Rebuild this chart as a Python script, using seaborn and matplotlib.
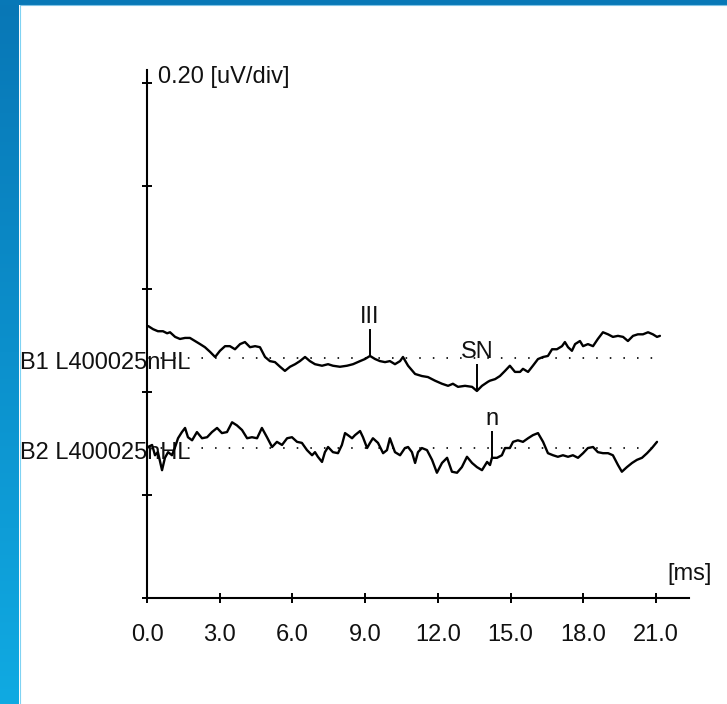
import numpy as np
import pandas as pd
import matplotlib
matplotlib.use("Agg")
import matplotlib.pyplot as plt
import seaborn as sns
from matplotlib import font_manager
from matplotlib.colors import LinearSegmentedColormap

# ---------------- data ----------------
x_ticks = [0.0, 3.0, 6.0, 9.0, 12.0, 15.0, 18.0, 21.0]
x_tick_labels = ["0.0", "3.0", "6.0", "9.0", "12.0", "15.0", "18.0", "21.0"]
y_div_ticks = [0, 1, 2, 3, 4, 5]
uv_per_div = 0.20

trace_names = ["B1 L400025nHL", "B2 L400025nHL"]
trace_offsets_div = [2.33, 1.456]

b1_time = [0.05, 0.25, 0.45, 0.66, 0.83, 0.95, 1.16, 1.36, 1.57, 1.77, 1.98, 2.19, 2.39, 2.60,
           2.81, 3.01, 3.22, 3.42, 3.63, 3.84, 4.04, 4.25, 4.46, 4.66, 4.87, 5.07, 5.28, 5.49,
           5.69, 5.90, 6.11, 6.31, 6.52, 6.72, 6.93, 7.22, 7.47, 7.67, 7.96, 8.25, 8.50, 8.79,
           8.99, 9.20, 9.41, 9.61, 9.82, 10.02, 10.23, 10.44, 10.56, 10.77, 11.06, 11.34, 11.59,
           11.88, 12.17, 12.42, 12.62, 12.83, 13.12, 13.41, 13.61, 13.82, 14.07, 14.15, 14.36,
           14.56, 14.77, 14.97, 15.18, 15.39, 15.51, 15.72, 15.92, 16.13, 16.34, 16.54, 16.71,
           16.91, 17.12, 17.24, 17.37, 17.53, 17.66, 17.86, 17.99, 18.19, 18.40, 18.60, 18.81,
           19.02, 19.22, 19.43, 19.64, 19.84, 20.05, 20.25, 20.46, 20.67, 20.87, 21.04, 21.16]
b1_uv = [0.062, 0.056, 0.052, 0.052, 0.048, 0.050, 0.041, 0.037, 0.039, 0.039, 0.033, 0.027,
         0.021, 0.012, 0.002, 0.014, 0.023, 0.023, 0.017, 0.027, 0.031, 0.021, 0.023, 0.021,
         0.002, -0.006, -0.008, -0.017, -0.025, -0.017, -0.012, -0.006, 0.002, -0.006, -0.012,
         -0.015, -0.012, -0.015, -0.017, -0.015, -0.012, -0.006, -0.002, 0.004, -0.002, -0.006,
         -0.008, -0.006, -0.012, -0.006, 0.002, -0.015, -0.031, -0.035, -0.037, -0.044, -0.050,
         -0.054, -0.050, -0.056, -0.054, -0.056, -0.064, -0.054, -0.046, -0.044, -0.041, -0.035,
         -0.025, -0.015, -0.027, -0.027, -0.021, -0.027, -0.015, -0.002, 0.002, 0.004, 0.017,
         0.017, 0.023, 0.031, 0.021, 0.014, 0.027, 0.033, 0.023, 0.027, 0.023, 0.037, 0.050,
         0.046, 0.041, 0.043, 0.041, 0.033, 0.043, 0.046, 0.046, 0.050, 0.046, 0.041, 0.043]

b2_time = [0.04, 0.21, 0.33, 0.45, 0.62, 0.74, 0.87, 1.03, 1.16, 1.28, 1.44, 1.57, 1.69, 1.86,
           2.06, 2.27, 2.48, 2.68, 2.89, 3.09, 3.30, 3.51, 3.71, 3.92, 4.13, 4.33, 4.54, 4.74,
           4.95, 5.16, 5.36, 5.57, 5.78, 5.98, 6.19, 6.39, 6.60, 6.81, 6.93, 7.05, 7.22, 7.34,
           7.47, 7.67, 7.88, 8.04, 8.17, 8.29, 8.46, 8.58, 8.79, 8.91, 9.08, 9.20, 9.32, 9.53,
           9.74, 9.90, 10.02, 10.23, 10.44, 10.64, 10.77, 10.93, 11.06, 11.18, 11.34, 11.55,
           11.76, 11.96, 12.17, 12.38, 12.58, 12.79, 12.99, 13.20, 13.41, 13.61, 13.82, 14.03,
           14.15, 14.23, 14.44, 14.64, 14.77, 14.97, 15.10, 15.30, 15.51, 15.72, 15.92, 16.13,
           16.34, 16.54, 16.75, 16.95, 17.16, 17.37, 17.57, 17.78, 17.99, 18.19, 18.40, 18.60,
           18.81, 19.02, 19.22, 19.43, 19.59, 19.80, 20.01, 20.21, 20.42, 20.63, 20.83, 21.04]
b2_uv = [0.002, 0.006, -0.014, -0.008, -0.043, -0.019, -0.008, -0.014, 0.002, 0.019, 0.031,
         0.039, 0.021, 0.015, 0.031, 0.019, 0.021, 0.031, 0.039, 0.029, 0.031, 0.050, 0.044,
         0.035, 0.019, 0.021, 0.019, 0.039, 0.021, 0.002, 0.012, 0.006, 0.019, 0.021, 0.012,
         0.010, -0.004, -0.014, -0.008, -0.017, -0.027, -0.008, 0.002, -0.008, -0.010, 0.006,
         0.029, 0.025, 0.019, 0.025, 0.033, 0.021, 0.000, 0.010, 0.019, 0.010, -0.010, -0.004,
         0.019, -0.008, -0.014, 0.000, 0.002, -0.008, -0.029, -0.008, 0.000, -0.004, -0.023,
         -0.048, -0.029, -0.019, -0.046, -0.048, -0.037, -0.017, -0.029, -0.037, -0.043, -0.027,
         -0.033, -0.019, -0.019, -0.014, 0.000, 0.000, 0.012, 0.015, 0.012, 0.019, 0.025, 0.029,
         0.012, -0.010, -0.014, -0.017, -0.014, -0.017, -0.014, -0.019, -0.010, 0.000, 0.002,
         -0.008, -0.010, -0.010, -0.014, -0.033, -0.046, -0.037, -0.029, -0.023, -0.019, -0.010,
         0.000, 0.012]

# peak markers: (label, trace index, latency ms)
marker_labels = ["III", "SN", "n"]
marker_trace = [0, 0, 1]
marker_time = [9.20, 13.61, 14.23]

# ---------------- style ----------------
sns.set_theme(style="white")
avail = {f.name for f in font_manager.fontManager.ttflist}
if "Liberation Sans Narrow" in avail:
    fam = ["Liberation Sans Narrow", "DejaVu Sans"]
    fs = 20
else:
    fam = ["Liberation Sans", "DejaVu Sans"]
    fs = 17
plt.rcParams["font.family"] = fam
plt.rcParams["text.color"] = "#111111"

W, H = 727, 704
fig = plt.figure(figsize=(W / 100, H / 100), dpi=100, facecolor="white")

# blue frame (left gradient strip + top bar)
strip = fig.add_axes([0, 0, 19 / W, 1])
grad = np.linspace(0, 1, 256).reshape(-1, 1)
cmap = LinearSegmentedColormap.from_list("frame", ["#0877b6", "#0c90cc", "#10aae2"])
strip.imshow(grad, aspect="auto", cmap=cmap, extent=[0, 1, 0, 1], origin="upper")
strip.set_axis_off()
topbar = fig.add_axes([0, 1 - 4.5 / H, 1, 4.5 / H])
topbar.set_facecolor("#0878b7")
topbar.set_xticks([]); topbar.set_yticks([])
for s in topbar.spines.values():
    s.set_visible(False)
fig.add_artist(plt.Line2D([19.5 / W, 19.5 / W], [0, 1 - 4.5 / H], color="#7fd3f3", lw=0.8))
fig.add_artist(plt.Line2D([19.5 / W, 1], [1 - 5 / H, 1 - 5 / H], color="#7fc3e6", lw=0.8))

# main plot area
px_per_ms = 24.24
px_per_div = 103.0
ax = fig.add_axes([147 / W, 106 / H, 542 / W, 528 / H])
ax.set_facecolor("none")

traces_t = [b1_time, b2_time]
traces_uv = [b1_uv, b2_uv]

for name, off, tt, uv in zip(trace_names, trace_offsets_div, traces_t, traces_uv):
    # dotted baseline
    ax.hlines(off, 0, 21.0, colors="#222222", linestyles=(0, (0.8, 6.2)), linewidth=1.4)
    df = pd.DataFrame({"t": tt, "y": off + np.array(uv) / uv_per_div})
    sns.lineplot(data=df, x="t", y="y", ax=ax, color="black", linewidth=1.7,
                 estimator=None, sort=True, legend=False)
    ax.text(-127 / px_per_ms, off - 11 / px_per_div, name, fontsize=fs,
            ha="left", va="baseline", clip_on=False, zorder=1)

# peak markers
for lab, ti, tm in zip(marker_labels, marker_trace, marker_time):
    off = trace_offsets_div[ti]
    yv = off + np.interp(tm, traces_t[ti], traces_uv[ti]) / uv_per_div
    top = yv + 27 / px_per_div
    ax.vlines(tm, yv, top, colors="black", linewidth=1.4)
    ax.text(tm, top + 6 / px_per_div, lab, fontsize=fs, ha="center", va="baseline")

ax.set_xlim(0, 542 / px_per_ms)
ax.set_ylim(0, 528 / px_per_div)
ax.set_xlabel("")
ax.set_ylabel("")

for s in ["top", "right"]:
    ax.spines[s].set_visible(False)
for s in ["left", "bottom"]:
    ax.spines[s].set_color("black")
    ax.spines[s].set_linewidth(1.5)

ax.set_xticks(x_ticks)
ax.set_xticklabels(x_tick_labels, fontsize=fs, color="#111111")
ax.set_yticks(y_div_ticks)
ax.set_yticklabels([])
ax.tick_params(axis="both", direction="inout", length=7.5, width=1.4, color="black")
ax.tick_params(axis="x", pad=15, bottom=True)
ax.tick_params(axis="y", left=True)

# annotations
ax.text(11 / px_per_ms, 515 / px_per_div, "0.20 [uV/div]", fontsize=fs,
        ha="left", va="baseline", clip_on=False)
ax.text(520 / px_per_ms, 18 / px_per_div, "[ms]", fontsize=fs,
        ha="left", va="baseline", clip_on=False)

fig.savefig("out.png", dpi=100, facecolor="white")
